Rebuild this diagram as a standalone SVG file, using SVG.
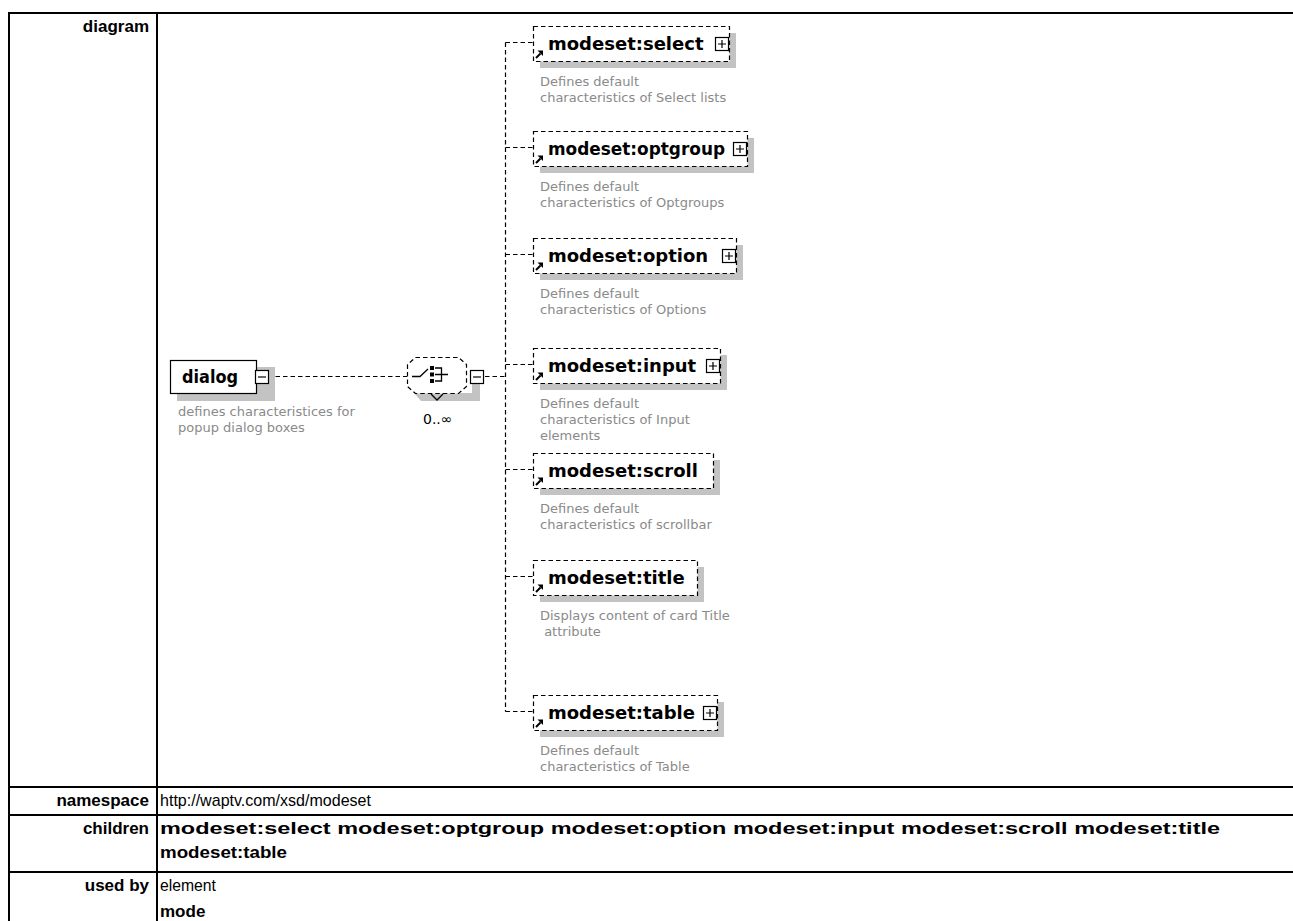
<svg xmlns="http://www.w3.org/2000/svg" xmlns:xlink="http://www.w3.org/1999/xlink" width="1293" height="921" viewBox="0 0 1293 921">
<style>
  .grid{stroke:#000;stroke-width:2;fill:none}
  .lbl{font-family:"Liberation Sans",Arial,sans-serif;font-weight:bold;font-size:17px;text-anchor:end;fill:#000}
  .val{font-family:"Liberation Sans",Arial,sans-serif;font-size:17px;fill:#000}
  .b{font-weight:bold}
  .shadow{fill:#c3c3c3}
  .box{fill:#fff;stroke:#000;stroke-width:1.2}
  .ref{fill:#fff;stroke:#000;stroke-width:1.2;stroke-dasharray:4.5 3}
  .conn{fill:none;stroke:#000;stroke-width:1.2;stroke-dasharray:4.5 3}
  .name{font-family:"DejaVu Sans",Verdana,sans-serif;font-weight:bold;font-size:18px;fill:#000}
  .desc{font-family:"DejaVu Sans",Verdana,sans-serif;font-size:13px;fill:#8a8a8a}
  .occ{font-family:"DejaVu Sans",Verdana,sans-serif;font-size:14px;fill:#000}
  .ln{fill:none;stroke:#000;stroke-width:1.3}
</style>
<defs>
  <g id="plus">
    <rect x="0.5" y="0.5" width="13" height="13" fill="#fff" stroke="#000" stroke-width="1.2"/>
    <path d="M3 7H11M7 3V11" stroke="#000" stroke-width="1.2" fill="none"/>
  </g>
  <g id="minus">
    <rect x="0.5" y="0.5" width="13" height="13" fill="#fff" stroke="#000" stroke-width="1.2"/>
    <path d="M3 7H11" stroke="#000" stroke-width="1.2" fill="none"/>
  </g>
  <g id="refarrow">
    <path d="M1 8L5.5 3.5" stroke="#000" stroke-width="2" fill="none"/>
    <path d="M2.5 0.5H8V6Z" fill="#000"/>
  </g>
</defs>

<!-- property table -->
<g id="table">
  <path class="grid" d="M8 13H1293M9 12V921M157 13V921M8 787H1293M8 815H1293M8 872H1293"/>
  <text class="lbl" x="149" y="32">diagram</text>
  <text class="lbl" x="149" y="806">namespace</text>
  <text class="lbl" x="149" y="834">children</text>
  <text class="lbl" x="149" y="891">used by</text>
  <text class="val" x="160" y="806" textLength="211" lengthAdjust="spacingAndGlyphs">http://waptv.com/xsd/modeset</text>
  <text class="val b" x="160" y="834" textLength="1060" lengthAdjust="spacingAndGlyphs">modeset:select modeset:optgroup modeset:option modeset:input modeset:scroll modeset:title</text>
  <text class="val b" x="160" y="858" textLength="127" lengthAdjust="spacingAndGlyphs">modeset:table</text>
  <text class="val" x="160" y="891" textLength="56" lengthAdjust="spacingAndGlyphs">element</text>
  <text class="val b" x="160" y="917">mode</text>
</g>

<!-- connectors -->
<g id="connectors">
  <path class="conn" d="M268 376.5H407"/>
  <path class="conn" d="M485 376.5H505.5"/>
  <path class="conn" d="M505.5 42.5V711.5"/>
  <path class="conn" d="M505.5 42.5H533M505.5 147.5H533M505.5 254.5H533M505.5 364.5H533M505.5 469.5H533M505.5 576.5H533M505.5 711.5H533"/>
</g>

<!-- root element -->
<g id="n-dialog">
  <rect class="shadow" x="177" y="367" width="98" height="34"/>
  <rect class="box" x="170.5" y="360.5" width="86" height="33"/>
  <text class="name" x="182" y="383" textLength="56" lengthAdjust="spacingAndGlyphs">dialog</text>
  <use xlink:href="#minus" x="255" y="370"/>
  <text class="desc" x="178" y="416">defines characteristices for</text>
  <text class="desc" x="178" y="432">popup dialog boxes</text>
</g>

<!-- choice compositor -->
<g id="n-choice">
  <path class="shadow" d="M414 393H472V384H480V401H421Z"/>
  <path class="ref" d="M415.5 357.5H458.5L466.5 364.5V386.5L458.5 393.5H415.5L407.5 386.5V364.5Z"/>
  <path class="ln" d="M412 376.5H420L428 369"/>
  <rect x="430" y="366" width="4" height="4"/>
  <rect x="430" y="372.5" width="4" height="4"/>
  <rect x="430" y="379" width="4" height="4"/>
  <path class="ln" d="M435 368H441.5V381H435M435 374.5H448"/>
  <path class="ln" d="M431 394L437 400L443 394"/>
  <use xlink:href="#minus" x="470" y="370"/>
  <text class="occ" x="423" y="424">0..∞</text>
</g>

<!-- child references -->
<g id="n-select">
  <rect class="shadow" x="540" y="33" width="196" height="35"/>
  <rect class="ref" x="533.5" y="26.5" width="196" height="35"/>
  <text class="name" x="548" y="50">modeset:select</text>
  <use xlink:href="#plus" x="715" y="37"/>
  <use xlink:href="#refarrow" x="535" y="50"/>
  <text class="desc" x="540" y="86">Defines default</text>
  <text class="desc" x="540" y="102">characteristics of Select lists</text>
</g>

<g id="n-optgroup">
  <rect class="shadow" x="540" y="138" width="214" height="35"/>
  <rect class="ref" x="533.5" y="131.5" width="214" height="35"/>
  <text class="name" x="548" y="155" textLength="177" lengthAdjust="spacingAndGlyphs">modeset:optgroup</text>
  <use xlink:href="#plus" x="733" y="142"/>
  <use xlink:href="#refarrow" x="535" y="155"/>
  <text class="desc" x="540" y="191">Defines default</text>
  <text class="desc" x="540" y="207">characteristics of Optgroups</text>
</g>

<g id="n-option">
  <rect class="shadow" x="540" y="245" width="203" height="35"/>
  <rect class="ref" x="533.5" y="238.5" width="203" height="35"/>
  <text class="name" x="548" y="262">modeset:option</text>
  <use xlink:href="#plus" x="722" y="249"/>
  <use xlink:href="#refarrow" x="535" y="262"/>
  <text class="desc" x="540" y="298">Defines default</text>
  <text class="desc" x="540" y="314">characteristics of Options</text>
</g>

<g id="n-input">
  <rect class="shadow" x="540" y="355" width="187" height="35"/>
  <rect class="ref" x="533.5" y="348.5" width="187" height="35"/>
  <text class="name" x="548" y="372">modeset:input</text>
  <use xlink:href="#plus" x="706" y="359"/>
  <use xlink:href="#refarrow" x="535" y="372"/>
  <text class="desc" x="540" y="408">Defines default</text>
  <text class="desc" x="540" y="424">characteristics of Input</text>
  <text class="desc" x="540" y="440">elements</text>
</g>

<g id="n-scroll">
  <rect class="shadow" x="540" y="460" width="180" height="35"/>
  <rect class="ref" x="533.5" y="453.5" width="180" height="35"/>
  <text class="name" x="548" y="477">modeset:scroll</text>
  <use xlink:href="#refarrow" x="535" y="477"/>
  <text class="desc" x="540" y="513">Defines default</text>
  <text class="desc" x="540" y="529">characteristics of scrollbar</text>
</g>

<g id="n-title">
  <rect class="shadow" x="540" y="567" width="164" height="35"/>
  <rect class="ref" x="533.5" y="560.5" width="164" height="35"/>
  <text class="name" x="548" y="584">modeset:title</text>
  <use xlink:href="#refarrow" x="535" y="584"/>
  <text class="desc" x="540" y="620">Displays content of card Title</text>
  <text class="desc" x="540" y="636" xml:space="preserve"> attribute</text>
</g>

<g id="n-table">
  <rect class="shadow" x="540" y="702" width="184" height="35"/>
  <rect class="ref" x="533.5" y="695.5" width="184" height="35"/>
  <text class="name" x="548" y="719">modeset:table</text>
  <use xlink:href="#plus" x="703" y="706"/>
  <use xlink:href="#refarrow" x="535" y="719"/>
  <text class="desc" x="540" y="755">Defines default</text>
  <text class="desc" x="540" y="771">characteristics of Table</text>
</g>
</svg>
